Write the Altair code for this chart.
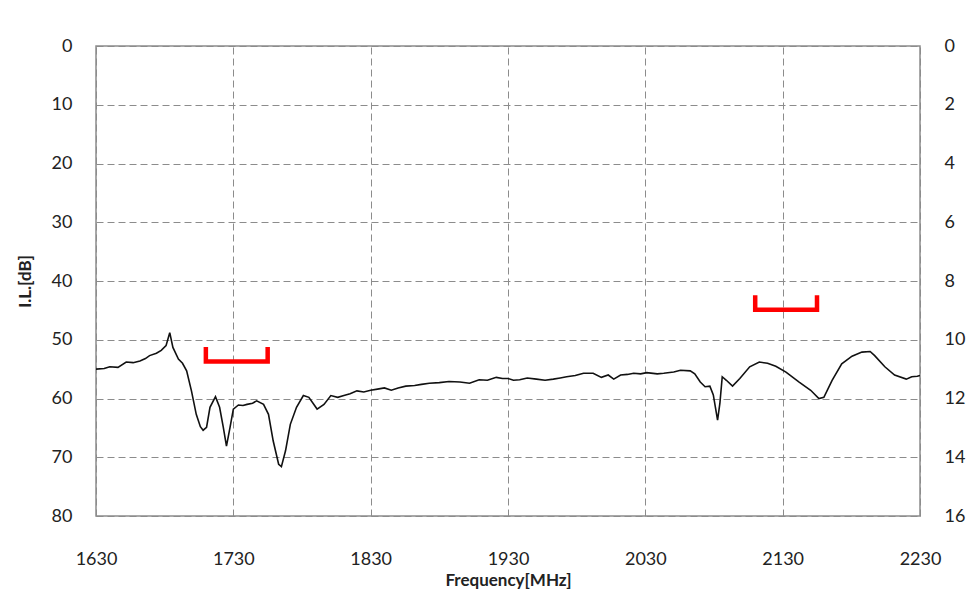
import altair as alt
import pandas as pd

# Insertion loss trace (frequency MHz, I.L. dB)
freq = [1630, 1636, 1640, 1646, 1652, 1657, 1662, 1666, 1669, 1674, 1677.5, 1681, 1683.7,
        1686, 1690, 1693, 1696, 1699.5, 1703, 1706, 1708, 1710.5, 1713, 1717, 1720, 1722.7,
        1725, 1727.6, 1730, 1733.7, 1737, 1740, 1744, 1747, 1752, 1755.6, 1759, 1763, 1765,
        1768, 1771.5, 1776, 1781, 1785, 1791, 1796, 1801, 1806, 1810.5, 1815, 1820, 1825,
        1830, 1835, 1840, 1845, 1850, 1855.6, 1862, 1867, 1872.7, 1880, 1887, 1895, 1902,
        1909, 1915, 1921.5, 1926, 1930, 1934, 1938.5, 1944, 1950.7, 1957, 1963, 1968,
        1972.7, 1979, 1985, 1992, 1998, 2003, 2007, 2012, 2017, 2021.5, 2026.6, 2031,
        2038.7, 2043.4, 2050.7, 2055.6, 2062.7, 2066, 2070, 2073.5, 2077, 2079.5, 2082.6,
        2084.3, 2086, 2089, 2093.5, 2098.8, 2106, 2113, 2119, 2125, 2132.4, 2142, 2150.4,
        2156.4, 2160, 2166, 2173, 2180.5, 2187.7, 2193.7, 2197, 2204.4, 2211.5, 2220, 2224,
        2228, 2230]
il = [55.0, 54.9, 54.6, 54.7, 53.8, 53.9, 53.6, 53.2, 52.7, 52.3, 51.8, 51.0, 48.8,
      51.3, 53.3, 54.0, 55.3, 58.7, 62.7, 64.8, 65.4, 64.9, 61.5, 59.7, 61.5, 64.9,
      68.1, 64.9, 61.8, 61.1, 61.2, 61.0, 60.8, 60.4, 61.0, 62.7, 67.2, 71.2, 71.6,
      68.9, 64.4, 61.5, 59.5, 59.8, 61.8, 61.0, 59.5, 59.8, 59.5, 59.2, 58.7, 58.9,
      58.6, 58.4, 58.2, 58.6, 58.2, 57.9, 57.8, 57.6, 57.4, 57.3, 57.1, 57.2, 57.4,
      56.8, 56.9, 56.4, 56.6, 56.6, 56.9, 56.8, 56.5, 56.7, 56.9, 56.7, 56.5,
      56.3, 56.1, 55.7, 55.7, 56.4, 56.0, 56.7, 56.0, 55.9, 55.7, 55.8, 55.6,
      55.8, 55.7, 55.5, 55.2, 55.3, 55.8, 57.2, 58.0, 57.9, 59.4, 63.7,
      60.8, 56.3, 56.9, 57.9, 56.6, 54.6, 53.8, 54.0, 54.5, 55.5, 57.2, 58.6,
      60.0, 59.8, 56.9, 54.1, 52.8, 52.1, 52.0, 52.7, 54.6, 56.0, 56.7, 56.3,
      56.2, 56.1]

# Band markers (red brackets)
band_names = ["1710-1755", "1710-1755", "1710-1755", "1710-1755",
              "2110-2155", "2110-2155", "2110-2155", "2110-2155"]
band_freq = [1710, 1710, 1755, 1755, 2110, 2110, 2155, 2155]
band_il = [51.6, 53.7, 53.7, 51.6, 42.8, 44.9, 44.9, 42.8]
band_order = [0, 1, 2, 3, 0, 1, 2, 3]

x_ticks = [1630, 1730, 1830, 1930, 2030, 2130, 2230]
y_ticks = [0, 10, 20, 30, 40, 50, 60, 70, 80]

trace = pd.DataFrame({"freq": freq, "il": il})
bands = pd.DataFrame({"band": band_names, "freq": band_freq, "il": band_il, "order": band_order})

FONT = "Lato"
x_scale = alt.Scale(domain=[1630, 2230], nice=False, zero=False)
y_scale = alt.Scale(domain=[0, 80], reverse=True, nice=False)

line = alt.Chart(trace).mark_line(color="#111111", strokeWidth=1.6, interpolate="linear").encode(
    x=alt.X("freq:Q", scale=x_scale,
            axis=alt.Axis(values=x_ticks, format="d", title="Frequency[MHz]", grid=True,
                          gridDash=[7, 4], gridColor="#8c8c8c", gridWidth=1,
                          ticks=False, domain=False, labelPadding=34,
                          labelFontSize=18, labelFont=FONT, labelColor="#222222",
                          titleFont=FONT, titleFontSize=17, titleFontWeight="bold",
                          titleColor="#222222", titleY=64, titleBaseline="middle",
                          labelFlush=False)),
    y=alt.Y("il:Q", scale=y_scale,
            axis=alt.Axis(values=y_ticks, title="I.L.[dB]", grid=True, orient="left",
                          gridDash=[7, 4], gridColor="#8c8c8c", gridWidth=1,
                          ticks=False, domain=False, labelPadding=24,
                          labelFontSize=18, labelFont=FONT, labelColor="#222222",
                          titleFont=FONT, titleFontSize=17, titleFontWeight="bold",
                          titleColor="#222222", titleX=-71, titleY=235,
                          titleBaseline="middle", labelFlush=False)),
)

brackets = alt.Chart(bands).mark_line(color="#ff0000", strokeWidth=4.5,
                                       strokeCap="square", strokeJoin="miter").encode(
    x=alt.X("freq:Q", scale=x_scale),
    y=alt.Y("il:Q", scale=y_scale,
            axis=alt.Axis(values=y_ticks, orient="right", title=None, grid=False,
                          ticks=False, domain=False, labelPadding=24,
                          labelExpr="format(datum.value / 5, 'd')",
                          labelFontSize=18, labelFont=FONT, labelColor="#222222",
                          labelFlush=False)),
    detail="band:N",
    order="order:Q",
)

chart = alt.layer(line, brackets).resolve_axis(y="independent").properties(
    width=824, height=470,
    autosize=alt.AutoSizeParams(type="none"),
    padding={"left": 88, "top": 38, "right": 48, "bottom": 74},
    background="white",
).configure_view(stroke="#8c8c8c", strokeWidth=1.5)

chart.save("out.html", embed_options={"renderer": "svg", "actions": False})
